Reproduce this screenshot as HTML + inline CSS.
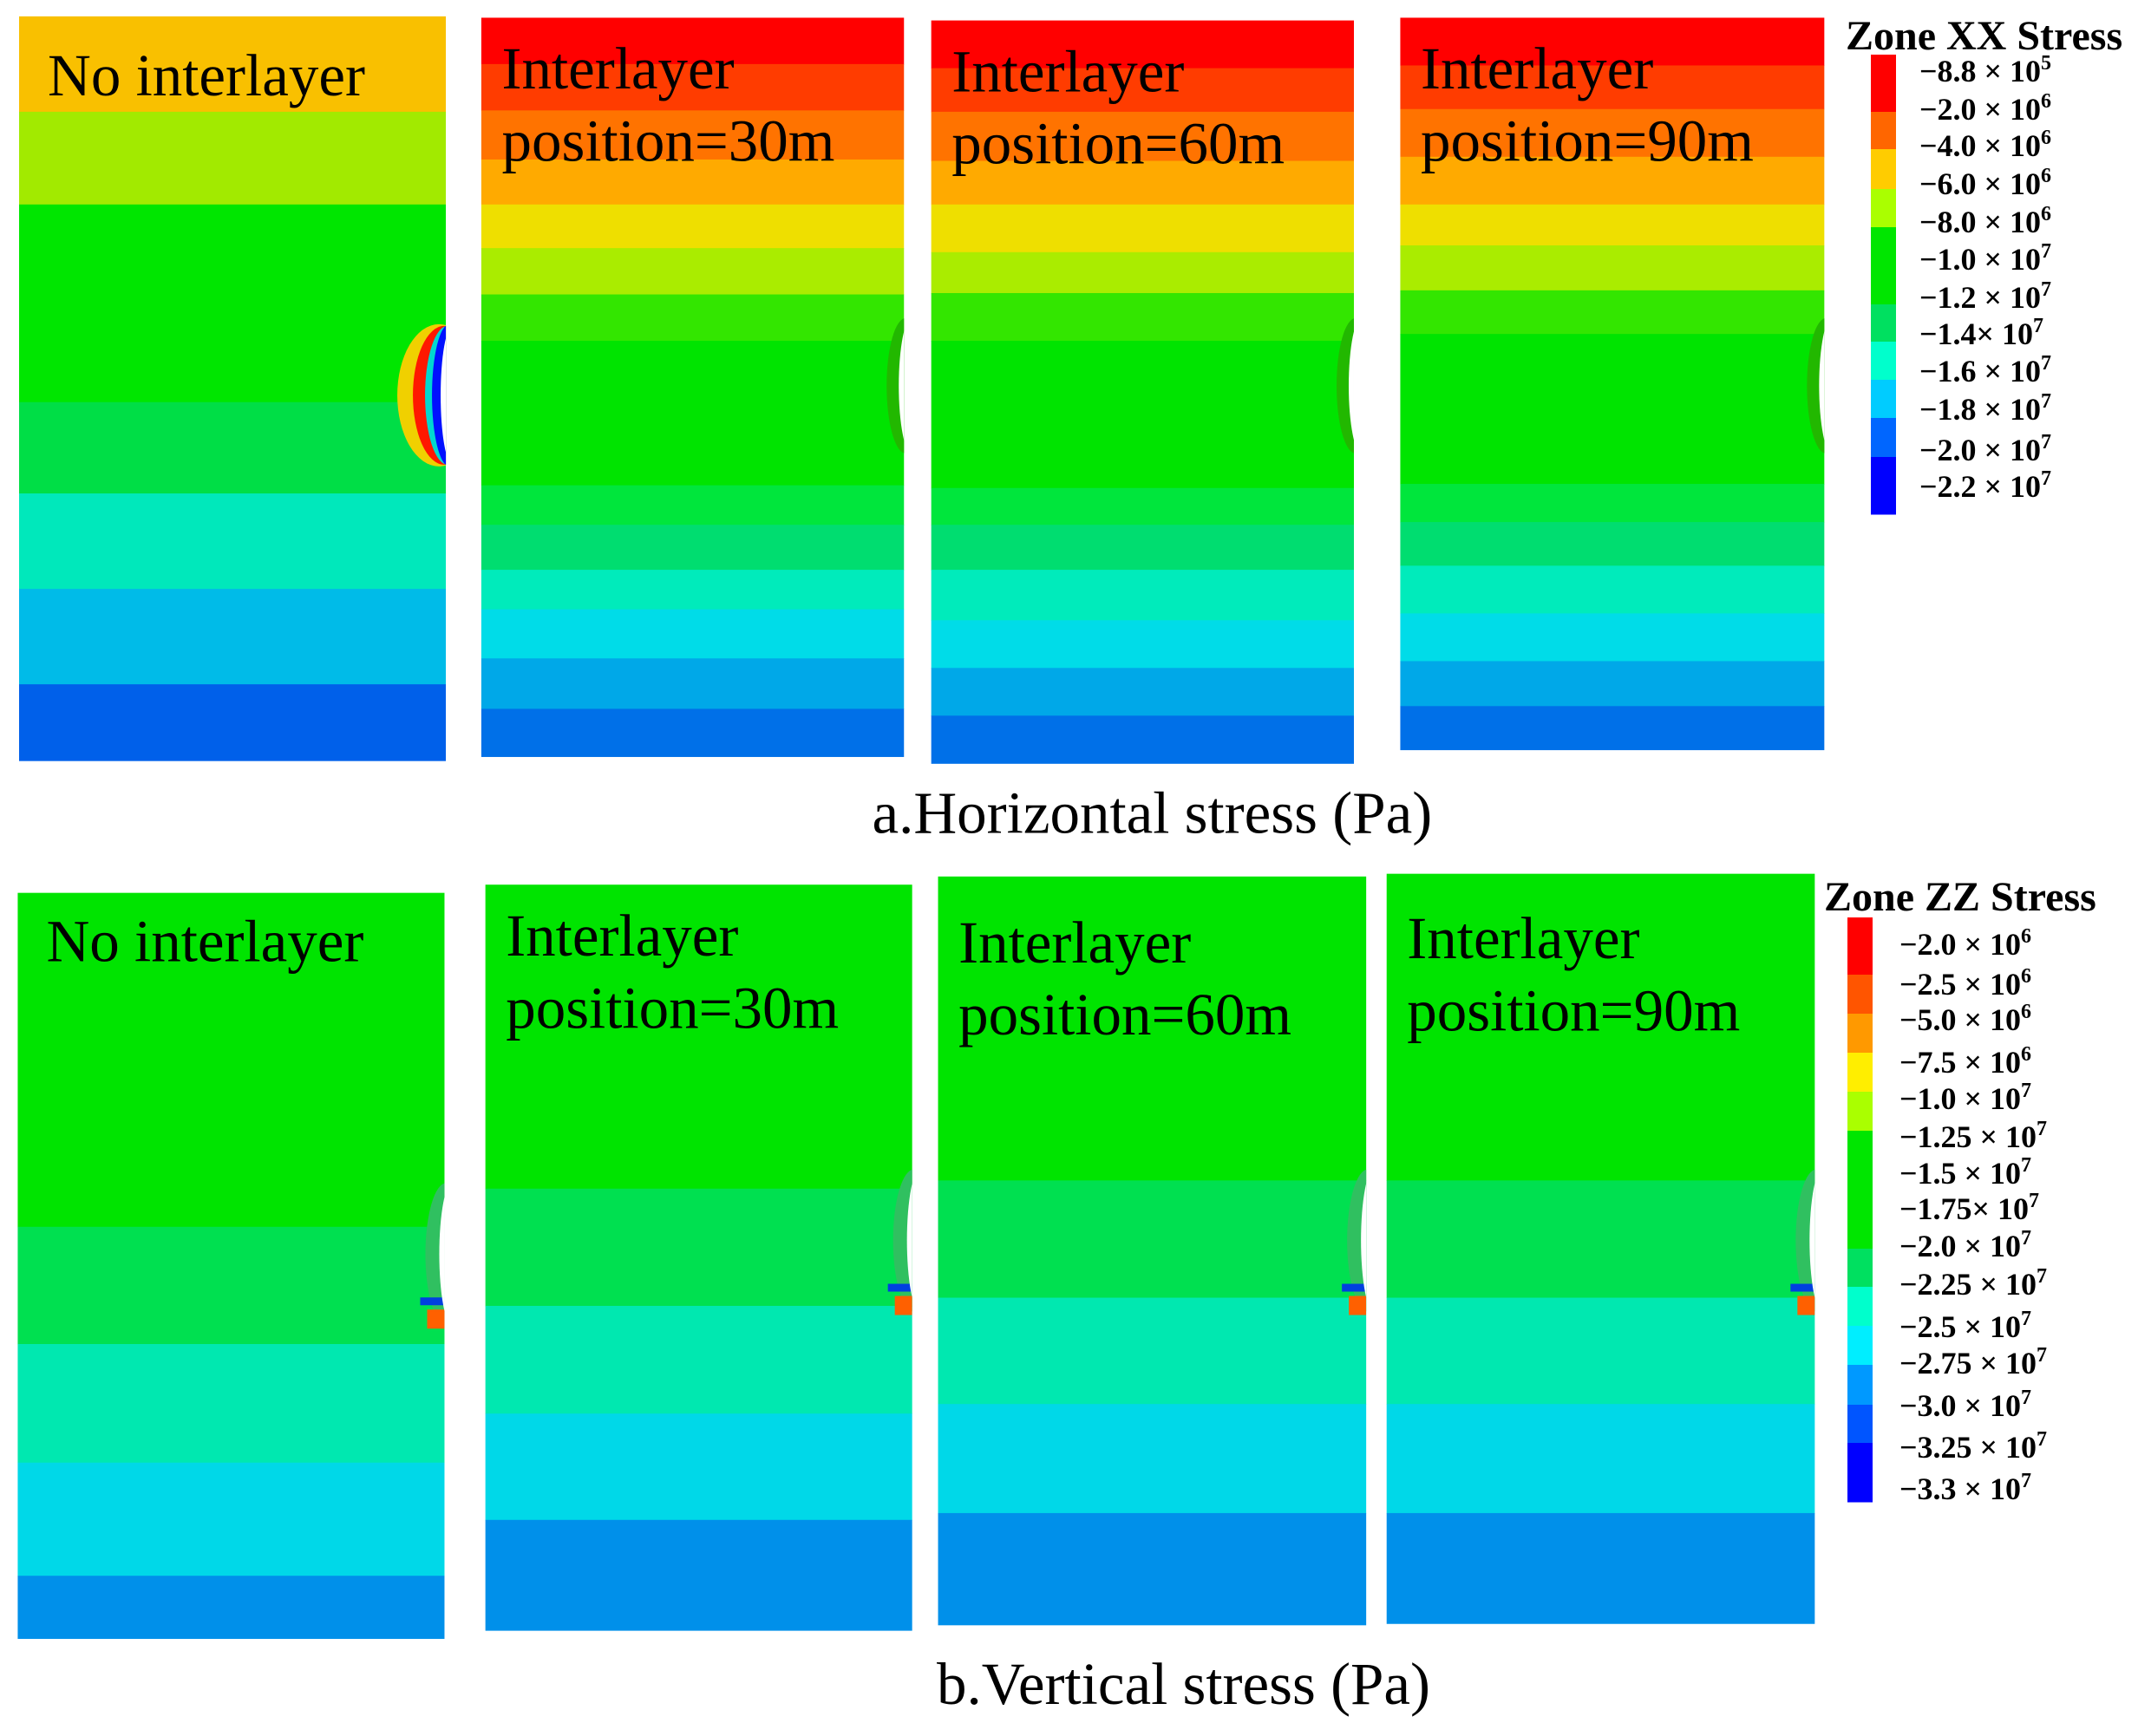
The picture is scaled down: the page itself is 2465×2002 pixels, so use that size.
<!DOCTYPE html>
<html><head><meta charset="utf-8"><style>
html,body{margin:0;padding:0;background:#fff;}
svg{display:block;font-family:"Liberation Serif",serif;}
</style></head><body>
<svg id="fig" width="2465" height="2002" viewBox="0 0 2465 2002" xmlns="http://www.w3.org/2000/svg"></svg>
<script>
const S = 1.572;
// Panel frames in reference display units [x0,x1,y0,y1]
const topFrames = [[14,327,12,558],[353,663,13,555],[683,993,15,560],[1027,1338,13,550]];
const botFrames = [[13,326,655,1202],[356,669,649,1196],[688,1002,643,1192],[1017,1331,641,1191]];
// Band boundaries (display y) per panel
const topBounds = [
  [12,82,150,295,362,432,502,558],
  [13,47,81,117,150,182,216,250,356,385,418,447,483,520,555],
  [15,50,82,118,150,185,215,250,358,385,418,455,490,525,560],
  [13,48,80,115,150,180,213,245,355,383,415,450,485,518,550]
];
const hColors = ['#ff0000','#ff3c00','#ff7300','#ffaa00','#eedf00','#aaec00','#33e600','#00e400','#00e63c','#00dd70','#00ebbb','#00dce8','#00a8e8','#0070e8'];
const topColors = [
  ['#f9c000','#a2ea00','#00e600','#00de46','#00e8bb','#00bbe8','#0060ea'],
  hColors, hColors, hColors
];
const botBounds = [
  [655,900,986,1073,1156,1202],
  [649,872,958,1037,1115,1196],
  [643,866,952,1030,1110,1192],
  [641,866,952,1030,1110,1191]
];
const botColors = ['#00e400','#00e050','#00e8b0','#00d8e8','#0090ea'];
const panelTitles = [['No interlayer'],['Interlayer','position=30m'],['Interlayer','position=60m'],['Interlayer','position=90m']];
// Legends: [mantissa, exponent]
const xxMant = ['\u22128.8 \u00d7 10','\u22122.0 \u00d7 10','\u22124.0 \u00d7 10','\u22126.0 \u00d7 10','\u22128.0 \u00d7 10','\u22121.0 \u00d7 10','\u22121.2 \u00d7 10','\u22121.4\u00d7 10','\u22121.6 \u00d7 10','\u22121.8 \u00d7 10','\u22122.0 \u00d7 10','\u22122.2 \u00d7 10'];
const xxExp = ['5','6','6','6','6','7','7','7','7','7','7','7'];
const xxLabelY = [82,126,168,212,256,299,343,385,428,472,519,561];
const xxBarBounds = [63,129,172,218,262,351,394,438,482,527,593];
const xxBarColors = ['#ff0000','#ff6600','#ffcc00','#aaff00','#00e600','#00e060','#00ffcc','#00ccff','#0066ff','#0000ff'];
const zzMant = ['\u22122.0 \u00d7 10','\u22122.5 \u00d7 10','\u22125.0 \u00d7 10','\u22127.5 \u00d7 10','\u22121.0 \u00d7 10','\u22121.25 \u00d7 10','\u22121.5 \u00d7 10','\u22121.75\u00d7 10','\u22122.0 \u00d7 10','\u22122.25 \u00d7 10','\u22122.5 \u00d7 10','\u22122.75 \u00d7 10','\u22123.0 \u00d7 10','\u22123.25 \u00d7 10','\u22123.3 \u00d7 10'];
const zzExp = ['6','6','6','6','7','7','7','7','7','7','7','7','7','7','7'];
const zzLabelY = [1089,1135,1176,1225,1267,1311,1353,1394,1437,1481,1530,1572,1621,1669,1717];
const zzBarBounds = [1058,1124,1169,1214,1259,1304,1440,1484,1529,1574,1620,1664,1732];
const zzBarColors = ['#ff0000','#ff5500','#ff9900','#ffee00','#aaff00','#00e600','#00e060','#00ffcc','#00eeff','#0099ff','#0055ff','#0000ff'];

const svg = document.getElementById('fig');
const NS = 'http://www.w3.org/2000/svg';
function mk(tag, attrs, parent){const e=document.createElementNS(NS,tag);for(const k in attrs)e.setAttribute(k,attrs[k]);(parent||svg).appendChild(e);return e;}
const defs = mk('defs',{});

function drawPanel(frame, bounds, colors, row, i){
  const g = mk('g',{});
  
  
  const x0=frame[0]*S, x1=frame[1]*S;
  const cp = mk('clipPath',{id:row+'clip'+i},defs);
  mk('rect',{x:x0,y:frame[2]*S,width:x1-x0,height:(frame[3]-frame[2])*S},cp);
  for(let b=0;b<bounds.length-1;b++){
    const r = mk('rect',{x:x0,y:bounds[b]*S,width:x1-x0,height:(bounds[b+1]-bounds[b])*S+0.5,fill:colors[b]},g);
    
    
  }
  const cav = mk('g',{'clip-path':'url(#'+row+'clip'+i+')'},g);
  
  
  return cav;
}
const topCav = topFrames.map((f,i)=>drawPanel(f, topBounds[i], topColors[i], 'horizontal', i));
const botCav = botFrames.map((f,i)=>drawPanel(f, botBounds[i], botColors, 'vertical', i));

// cavity features
{
  const f = topFrames[0]; const x = f[1]*S; const cy = 290*S; const g = topCav[0];
  mk('ellipse',{cx:x-8,cy:cy,rx:48,ry:82,fill:'#f0d000'},g);
  mk('ellipse',{cx:x-2,cy:cy,rx:36,ry:80,fill:'#ff1800'},g);
  mk('ellipse',{cx:x+2,cy:cy,rx:26,ry:80,fill:'#00d8d0'},g);
  mk('ellipse',{cx:x+4,cy:cy,rx:20,ry:82,fill:'#0010ff'},g);
  mk('ellipse',{cx:x+8,cy:cy,rx:14,ry:80,fill:'#ffffff'},g);
}
[1,2,3].forEach(i=>{const f=topFrames[i];const x=f[1]*S;const g=topCav[i];
  mk('ellipse',{cx:x+2,cy:283*S,rx:22,ry:78,fill:'#22b800'},g);
  mk('ellipse',{cx:x+10,cy:283*S,rx:16,ry:80,fill:'#ffffff'},g);});
botFrames.forEach((f,i)=>{const x=f[1]*S;const cy=(i==0?920:910)*S;const g=botCav[i];
  mk('ellipse',{cx:x+2,cy:cy,rx:24,ry:82,fill:'#30c060'},g);
  mk('rect',{x:x-28,y:cy+50,width:28,height:9,fill:'#0040e0'},g);
  mk('rect',{x:x-20,y:cy+64,width:20,height:22,fill:'#ff6000'},g);
  mk('ellipse',{cx:x+10,cy:cy,rx:16,ry:84,fill:'#ffffff'},g);});

// panel titles
function titles(frames, row, dys){
  frames.forEach((f,i)=>{
    const lines=panelTitles[i];
    lines.forEach((t,j)=>{
      const tx = mk('text',{x:(f[0]+ (i==0?21:15))*S,y:(f[2]+(i==0?58:52)+j*53+dys[i])*S,'font-size':69,fill:'#000'});
      tx.textContent=t;
      
      
    });
  });
}
titles(topFrames,'horizontal',[0,0,0,0]);
titles(botFrames,'vertical',[-8,0,11,10]);

// captions
const c1 = mk('text',{x:845*S,y:611*S,'font-size':69,'text-anchor':'middle',fill:'#000'});
c1.textContent='a.Horizontal stress (Pa)';


const c2 = mk('text',{x:868*S,y:1250*S,'font-size':69,'text-anchor':'middle',fill:'#000'});
c2.textContent='b.Vertical stress (Pa)';



// legends
function legend(title, tx, ty, barX, barW, bounds, colors, mant, exps, labelY, labelX, name){
  const g = mk('g',{});
  
  
  const t = mk('text',{x:tx,y:ty,'font-size':48,'font-weight':'bold',fill:'#000'},g);
  t.textContent=title;
  
  
  for(let i=0;i<colors.length;i++){
    const r = mk('rect',{x:barX,y:bounds[i],width:barW,height:bounds[i+1]-bounds[i]+0.5,fill:colors[i]},g);
    
    
  }
  mant.forEach((l,i)=>{
    const e = mk('text',{x:labelX,y:labelY[i]+12,'font-size':36,'font-weight':'bold',fill:'#000'},g);
    
    
    const s1 = mk('tspan',{},e); s1.textContent=l;
    const s2 = mk('tspan',{'font-size':24,dy:-14},e); s2.textContent=exps[i];
  });
}
legend('Zone XX Stress', 2128, 57, 2157, 29, xxBarBounds, xxBarColors, xxMant, xxExp, xxLabelY, 2213, 'legend-xx-stress');
legend('Zone ZZ Stress', 2103, 1050, 2130, 29, zzBarBounds, zzBarColors, zzMant, zzExp, zzLabelY, 2190, 'legend-zz-stress');
</script>
</body></html>
